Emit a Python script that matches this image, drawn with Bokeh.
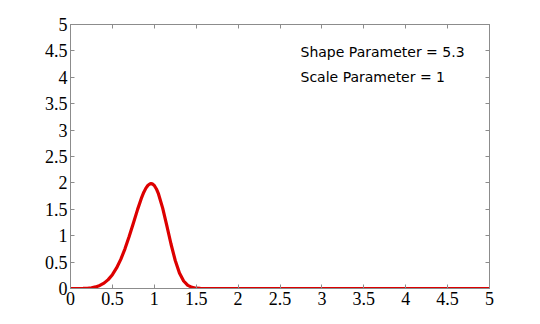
from bokeh.plotting import figure
from bokeh.models import Range1d, LinearAxis, FixedTicker, Label, ColumnDataSource, CustomJSTickFormatter
from bokeh.embed import file_html
from bokeh.resources import INLINE

# Weibull pdf curve (shape 5.3, scale 1)
x_vals = [0.0, 0.1, 0.15, 0.2, 0.25, 0.3, 0.35, 0.4, 0.45, 0.5, 0.55, 0.6, 0.65, 0.7, 0.75,
          0.8, 0.85, 0.875, 0.9, 0.925, 0.95, 0.96, 0.975, 1.0, 1.025, 1.05, 1.1, 1.15,
          1.2, 1.25, 1.3, 1.35, 1.4, 1.45, 1.5, 1.55, 1.6, 1.7, 2.0, 3.0, 4.0, 5.0]
y_vals = [0.0, 0.0003, 0.0015, 0.0052, 0.0137, 0.030, 0.058, 0.102, 0.1685, 0.262, 0.389,
          0.551, 0.751, 0.983, 1.237, 1.494, 1.727, 1.824, 1.901, 1.956, 1.984, 1.987,
          1.982, 1.950, 1.885, 1.790, 1.523, 1.187, 0.838, 0.530, 0.295, 0.1425, 0.0587,
          0.0202, 0.0057, 0.0013, 0.0002, 0.0, 0.0, 0.0, 0.0, 0.0]

tick_values = [0, 0.5, 1, 1.5, 2, 2.5, 3, 3.5, 4, 4.5, 5]
tick_labels = ["0", "0.5", "1", "1.5", "2", "2.5", "3", "3.5", "4", "4.5", "5"]
annotations = ["Shape Parameter = 5.3", "Scale Parameter = 1"]

overrides = {v: s for v, s in zip(tick_values, tick_labels)}

p = figure(width=540, height=324, output_backend="svg", toolbar_location=None,
           x_range=Range1d(0, 5), y_range=Range1d(0, 5),
           min_border_left=70, min_border_right=51, min_border_top=24, min_border_bottom=36,
           x_axis_location=None, y_axis_location=None)
p.background_fill_color = "white"
p.border_fill_color = "white"
p.xgrid.visible = False
p.ygrid.visible = False
p.outline_line_color = "#8c8c8c"
p.outline_line_width = 1

axis_color = "#8c8c8c"

def make_axis(show_labels):
    ax = LinearAxis(ticker=FixedTicker(ticks=tick_values, minor_ticks=[]))
    ax.axis_line_color = axis_color
    ax.major_tick_line_color = axis_color
    ax.major_tick_in = 4
    ax.major_tick_out = 0
    ax.minor_tick_line_color = None
    ax.major_label_text_font = "Liberation Serif"
    ax.major_label_text_font_size = "18px"
    ax.major_label_text_color = "black"
    ax.major_label_standoff = 3
    if show_labels:
        ax.major_label_overrides = overrides
    else:
        ax.formatter = CustomJSTickFormatter(code="return '';")
        ax.major_label_standoff = 0
    return ax

p.add_layout(make_axis(True), "below")
p.add_layout(make_axis(True), "left")
p.add_layout(make_axis(False), "above")
p.add_layout(make_axis(False), "right")

src = ColumnDataSource(dict(x=x_vals, y=y_vals))
p.line("x", "y", source=src, line_color="#dd0000", line_width=3.2, line_join="round")

for i, t in enumerate(annotations):
    p.add_layout(Label(x=2.745, y=4.48 - i * 0.47, text=t, text_font="DejaVu Sans",
                       text_font_size="14px", text_color="black", text_baseline="middle"))

open("out.html", "w").write(file_html(p, INLINE))
